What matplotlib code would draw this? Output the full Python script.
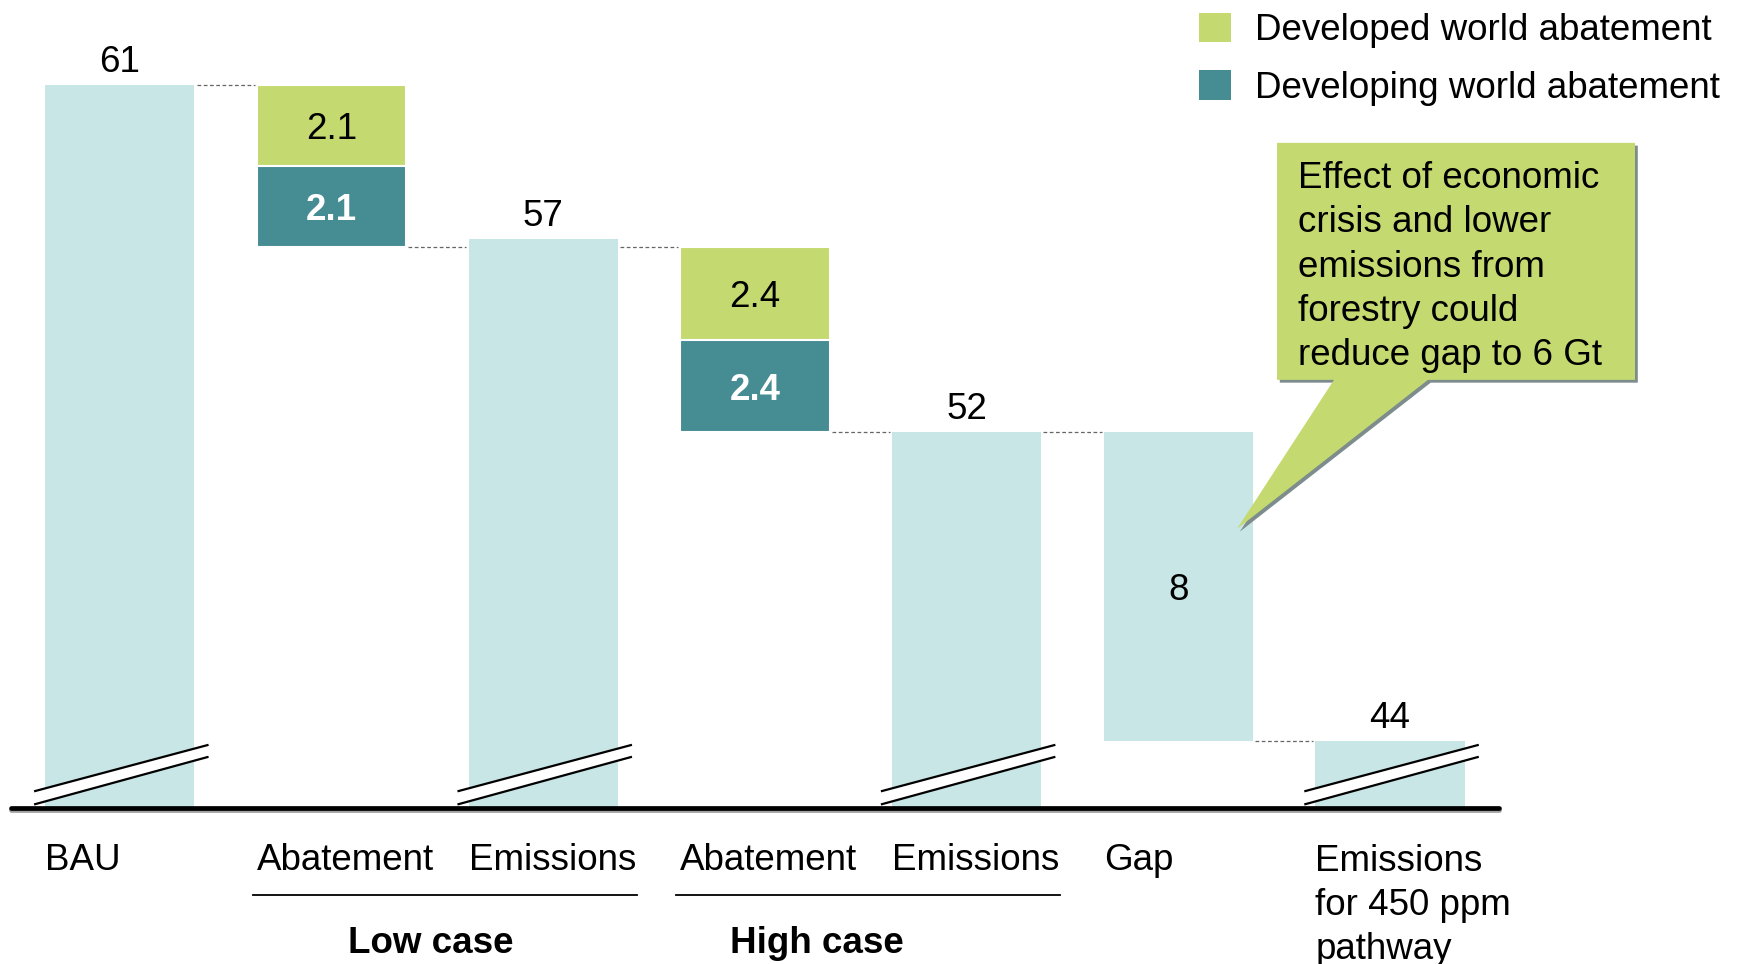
import matplotlib
matplotlib.use("Agg")
import matplotlib.pyplot as plt
from matplotlib.patches import Polygon, Patch
import matplotlib.patheffects as pe

plt.rcParams['font.family'] = ['Liberation Sans', 'DejaVu Sans']

# Emissions in 2020, Gt CO2e
bau = 61
low_developed = 2.1
low_developing = 2.1
low_emissions = 57
high_developed = 2.4
high_developing = 2.4
high_emissions = 52
gap = 8
target_450 = 44

categories = ["BAU", "Abatement", "Emissions", "Abatement", "Emissions", "Gap",
              "Emissions\nfor 450 ppm\npathway"]
groups = ["Low case", "High case"]
legend_labels = ["Developed world abatement", "Developing world abatement"]
callout_text = ("Effect of economic\ncrisis and lower\nemissions from\n"
                "forestry could\nreduce gap to 6 Gt")

LIGHT = '#C8E6E6'
GREEN = '#C4D96F'
TEAL = '#468C93'
FS = 26.5
BASE = 42.27      # value sitting on the broken axis line
W = 0.705         # bar width
LINE = 1.155      # distance between text lines, in y units
LSP = 1.345       # matching matplotlib linespacing


def text_block(x, y_first, s, **kw):
    """Place multi-line text with its first baseline at y_first."""
    n = s.count("\n")
    return ax.text(x, y_first - n * LINE, s, va='baseline', linespacing=LSP,
                   fontsize=FS, **kw)


fig = plt.figure(figsize=(17.47, 9.64), dpi=100)
ax = fig.add_axes([0, 0, 1, 1])
ax.set_xlim(-0.566, 7.686)
ax.set_ylim(38.23, 63.2)
ax.axis('off')

# Running total of the waterfall
run1 = bau - low_developed - low_developing
run2 = run1 - high_developed - high_developing

# Total bars standing on the broken axis
totals = [(0, bau), (2, low_emissions), (4, high_emissions), (6, target_450)]
for i, v in totals:
    ax.bar(i, v - BASE, bottom=BASE, width=W, color=LIGHT, zorder=1)
    ax.annotate(f"{v:g}", (i, v), xytext=(0, 9.6), textcoords='offset points',
                ha='center', va='baseline', fontsize=FS)

# Abatement stacks
for i, top, dev, dvg in [(1, bau, low_developed, low_developing),
                          (3, run1, high_developed, high_developing)]:
    ax.bar(i, dev, bottom=top - dev, width=W, color=GREEN,
           edgecolor='white', linewidth=1.5, zorder=2)
    ax.bar(i, dvg, bottom=top - dev - dvg, width=W, color=TEAL,
           edgecolor='white', linewidth=1.5, zorder=2)
    ax.text(i, top - dev / 2, f"{dev:g}", ha='center', va='center_baseline',
            fontsize=FS, color='black')
    ax.text(i, top - dev - dvg / 2, f"{dvg:g}", ha='center', va='center_baseline',
            fontsize=FS, color='white', fontweight='bold')

# Gap bar
ax.bar(5, gap, bottom=high_emissions - gap, width=W, color=LIGHT, zorder=1)
ax.text(5, high_emissions - gap / 2, f"{gap:g}", ha='center', va='center_baseline',
        fontsize=FS)

# Dashed connectors between neighbouring bars
levels = [(0, bau), (1, run1), (2, run1), (3, run2), (4, high_emissions),
          (5, high_emissions - gap)]
for i, lv in levels:
    ax.plot([i + W / 2 + 0.01, i + 1 - W / 2 - 0.01], [lv, lv], color='#666666',
            lw=0.9, ls=(0, (3, 2)), zorder=3)

# Axis-break marks on the total bars
for i, _ in totals:
    x0, x1 = i - 0.40, i + 0.414
    lo = (BASE + 0.10, BASE + 1.32)
    hi = (BASE + 0.44, BASE + 1.63)
    ax.fill([x0, x1, x1, x0], [lo[0], lo[1], hi[1], hi[0]], color='white', zorder=4)
    ax.plot([x0, x1], lo, color='black', lw=1.6, zorder=5)
    ax.plot([x0, x1], hi, color='black', lw=1.6, zorder=5)

# Base line
ax.plot([-0.514, 6.515], [BASE, BASE], color='black', lw=3.4,
        solid_capstyle='round', zorder=6,
        path_effects=[pe.SimpleLineShadow(offset=(0, -1.2), shadow_color='#888888',
                                          alpha=0.8), pe.Normal()])

# Category labels
for i, cat in enumerate(categories):
    text_block(i - W / 2, 40.66, cat, ha='left')

# Case groupings
for (a, b), name, xc in [((1, 2), groups[0], 1.468), ((3, 4), groups[1], 3.292)]:
    ax.plot([a - W / 2 - 0.02, b + W / 2 + 0.09], [40.02, 40.02], color='black', lw=1.3)
    ax.text(xc, 38.52, name, ha='center', va='baseline', fontsize=FS,
            fontweight='bold')

# Call-out on the gap bar
bx0, bx1, by0, by1 = 5.466, 7.157, 53.36, 59.5
tip = (5.277, 49.5)
callout = Polygon([(bx0, by1), (bx1, by1), (bx1, by0), (6.179, by0), tip,
                   (5.735, by0), (bx0, by0)], closed=True, facecolor=GREEN,
                  edgecolor='none', zorder=7,
                  path_effects=[pe.SimplePatchShadow(offset=(2, -2),
                                                     shadow_rgbFace='#7d8c8c',
                                                     alpha=1.0), pe.Normal()])
ax.add_patch(callout)
text_block(5.565, 58.36, callout_text, ha='left', zorder=8)

# Legend
handles = [Patch(facecolor=GREEN), Patch(facecolor=TEAL)]
fig.legend(handles, legend_labels, loc='upper left', bbox_to_anchor=(0.679, 1.0),
           frameon=False, fontsize=FS, handlelength=0.87, handleheight=0.87,
           handletextpad=0.65, labelspacing=0.6, borderpad=0, borderaxespad=0.34)

fig.savefig("out.png", dpi=100)
